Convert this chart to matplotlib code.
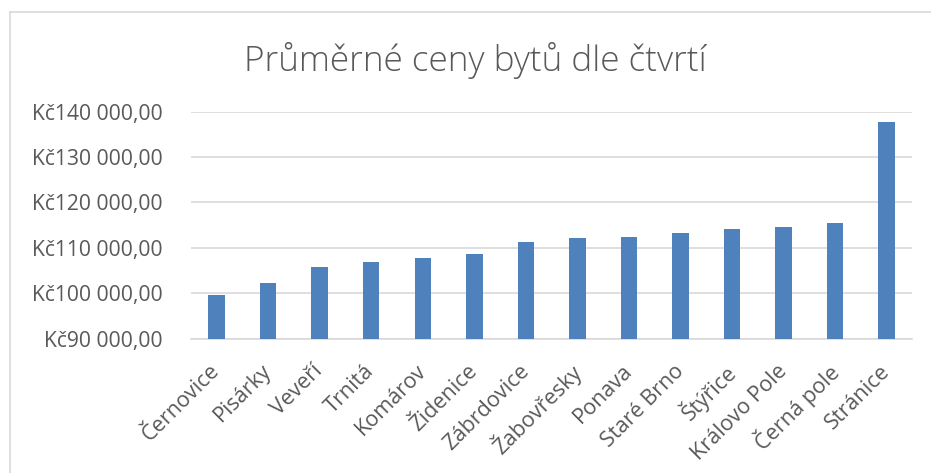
import matplotlib.pyplot as plt
from matplotlib.ticker import FuncFormatter
import numpy as np

plt.rcParams['font.family'] = ['Open Sans', 'DejaVu Sans']

ctvrti = ['Černovice', 'Pisárky', 'Veveří', 'Trnitá', 'Komárov', 'Židenice',
          'Zábrdovice', 'Žabovřesky', 'Ponava', 'Staré Brno', 'Štýřice',
          'Královo Pole', 'Černá pole', 'Stránice']
ceny = [99600, 102300, 105700, 106800, 107800, 108700, 111300, 112200,
        112400, 113200, 114100, 114600, 115500, 137700]

fig = plt.figure(figsize=(9.31, 4.73), dpi=100)
ax = fig.add_axes([0.205, 0.284, 0.775, 0.48])

x = np.arange(len(ctvrti))
ax.bar(x, ceny, width=0.32, color='#4F81BD', zorder=3)

ax.set_ylim(90000, 140000)
ax.set_xlim(-0.5, len(ctvrti) - 0.5)
ax.set_yticks(np.arange(90000, 140001, 10000))


def kc(v, pos):
    return 'Kč' + '{:,.0f}'.format(v).replace(',', ' ') + ',00'


ax.yaxis.set_major_formatter(FuncFormatter(kc))
ax.grid(axis='y', color='#D9D9D9', linewidth=1.2, zorder=0)
for s in ['top', 'right', 'left']:
    ax.spines[s].set_visible(False)
ax.spines['bottom'].set_color('#D9D9D9')
ax.spines['bottom'].set_linewidth(1.2)
ax.tick_params(length=0, colors='#595959')
ax.tick_params(axis='y', labelsize=15.2, pad=20)
ax.tick_params(axis='x', labelsize=15.6, pad=21)
ax.set_xticks(x)
ax.set_xticklabels(ctvrti, rotation=45, ha='right', va='center',
                   rotation_mode='anchor')

fig.text(0.511, 0.873, 'Průměrné ceny bytů dle čtvrtí', ha='center', va='center',
         fontsize=25.3, color='#595959', fontweight='light')

# chart frame (left and top edge visible)
fig.add_artist(plt.Line2D([0.011, 0.011], [0, 0.975], color='#D9D9D9', lw=1.2))
fig.add_artist(plt.Line2D([0.011, 1], [0.975, 0.975], color='#D9D9D9', lw=1.2))

fig.savefig('out.png', dpi=100)
